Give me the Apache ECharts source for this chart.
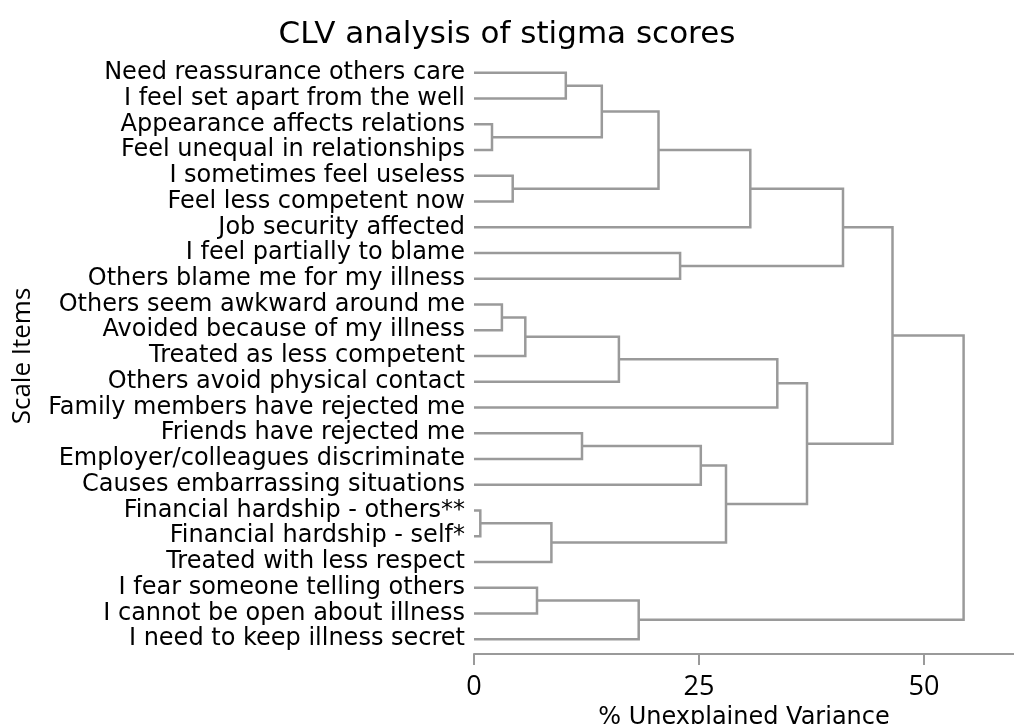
<!DOCTYPE html>
<html>
<head>
<meta charset="utf-8">
<script src="https://cdn.jsdelivr.net/npm/echarts@6/dist/echarts.min.js"></script>
<style>
  html, body { margin: 0; padding: 0; background: #fff; }
  #main { width: 1014px; height: 724px; }
</style>
</head>
<body>
<div id="main"></div>
<script>
// leaves, top to bottom
var items = [
    'Need reassurance others care',
    'I feel set apart from the well',
    'Appearance affects relations',
    'Feel unequal in relationships',
    'I sometimes feel useless',
    'Feel less competent now',
    'Job security affected',
    'I feel partially to blame',
    'Others blame me for my illness',
    'Others seem awkward around me',
    'Avoided because of my illness',
    'Treated as less competent',
    'Others avoid physical contact',
    'Family members have rejected me',
    'Friends have rejected me',
    'Employer/colleagues discriminate',
    'Causes embarrassing situations',
    'Financial hardship - others**',
    'Financial hardship - self*',
    'Treated with less respect',
    'I fear someone telling others',
    'I cannot be open about illness',
    'I need to keep illness secret'
];

// merges: ids < 23 are items, ids >= 23 are earlier merges (id - 23)
var mergeLeft  = [0, 2, 23, 4, 25, 27, 7, 28, 9, 31, 32, 33, 14, 35, 17, 37, 36, 34, 30, 20, 42, 41];
var mergeRight = [1, 3, 24, 5, 26, 6, 8, 29, 10, 11, 12, 13, 15, 16, 18, 19, 38, 39, 40, 21, 22, 43];
var mergeHeight = [10.2, 2.0, 14.2, 4.3, 20.5, 30.7, 22.9, 41.0, 3.1, 5.7, 16.1, 33.7,
                   12.0, 25.2, 0.7, 8.6, 28.0, 37.0, 46.5, 7.0, 18.3, 54.4];

var xTicks = [0, 25, 50];

var n = items.length;
var pos = [], hgt = [];
function nodePos(id) { return id < n ? id : pos[id - n]; }
function nodeHeight(id) { return id < n ? 0 : hgt[id - n]; }

// each link: [left child height, merge height, right child height, left y, right y]
var links = [];
for (var k = 0; k < mergeHeight.length; k++) {
    var a = mergeLeft[k], b = mergeRight[k];
    pos.push((nodePos(a) + nodePos(b)) / 2);
    hgt.push(mergeHeight[k]);
    links.push([nodeHeight(a), mergeHeight[k], nodeHeight(b), nodePos(a), nodePos(b)]);
}

var myChart = echarts.init(document.getElementById('main'));

var option = {
    backgroundColor: '#fff',
    animation: false,
    title: {
        text: 'CLV analysis of stigma scores',
        left: 'center',
        top: 14,
        textStyle: { fontFamily: 'DejaVu Sans', fontSize: 31, fontWeight: 'normal', color: '#000' }
    },
    grid: { left: 474, right: 0, top: 60, bottom: 72, containLabel: false, outerBoundsMode: 'none' },
    xAxis: {
        type: 'value',
        position: 'bottom',
        min: 0,
        max: 60,
        offset: 2,
        name: '% Unexplained Variance',
        nameLocation: 'middle',
        nameGap: 45,
        nameTextStyle: { fontFamily: 'DejaVu Sans', fontSize: 24, color: '#000' },
        axisLine: { onZero: false, lineStyle: { color: '#9a9a9a', width: 2 } },
        axisTick: { customValues: xTicks, length: 11, lineStyle: { color: '#9a9a9a', width: 2 } },
        axisLabel: { customValues: xTicks, margin: 20, fontFamily: 'Open Sans', fontSize: 27, color: '#000' },
        splitLine: { show: false }
    },
    yAxis: [{
        type: 'category',
        inverse: true,
        data: items,
        name: 'Scale Items',
        nameLocation: 'middle',
        nameRotate: 90,
        nameGap: 438,
        nameTextStyle: { fontFamily: 'Open Sans', fontSize: 26, color: '#000' },
        axisLine: { show: false },
        axisTick: { show: false },
        axisLabel: { interval: 0, margin: 9, fontFamily: 'DejaVu Sans', fontSize: 24, color: '#000' }
    }, {
        type: 'value',
        inverse: true,
        min: -0.5,
        max: n - 0.5,
        show: false
    }],
    series: [{
        type: 'custom',
        yAxisIndex: 1,
        clip: false,
        data: links,
        encode: { x: [0, 1, 2], y: [3, 4] },
        renderItem: function (params, api) {
            var p0 = api.coord([api.value(0), api.value(3)]);
            var p1 = api.coord([api.value(1), api.value(3)]);
            var p2 = api.coord([api.value(1), api.value(4)]);
            var p3 = api.coord([api.value(2), api.value(4)]);
            return {
                type: 'polyline',
                shape: { points: [p0, p1, p2, p3] },
                style: { stroke: '#9a9a9a', lineWidth: 2.5, fill: null }
            };
        }
    }]
};

option && myChart.setOption(option);
</script>
</body>
</html>
